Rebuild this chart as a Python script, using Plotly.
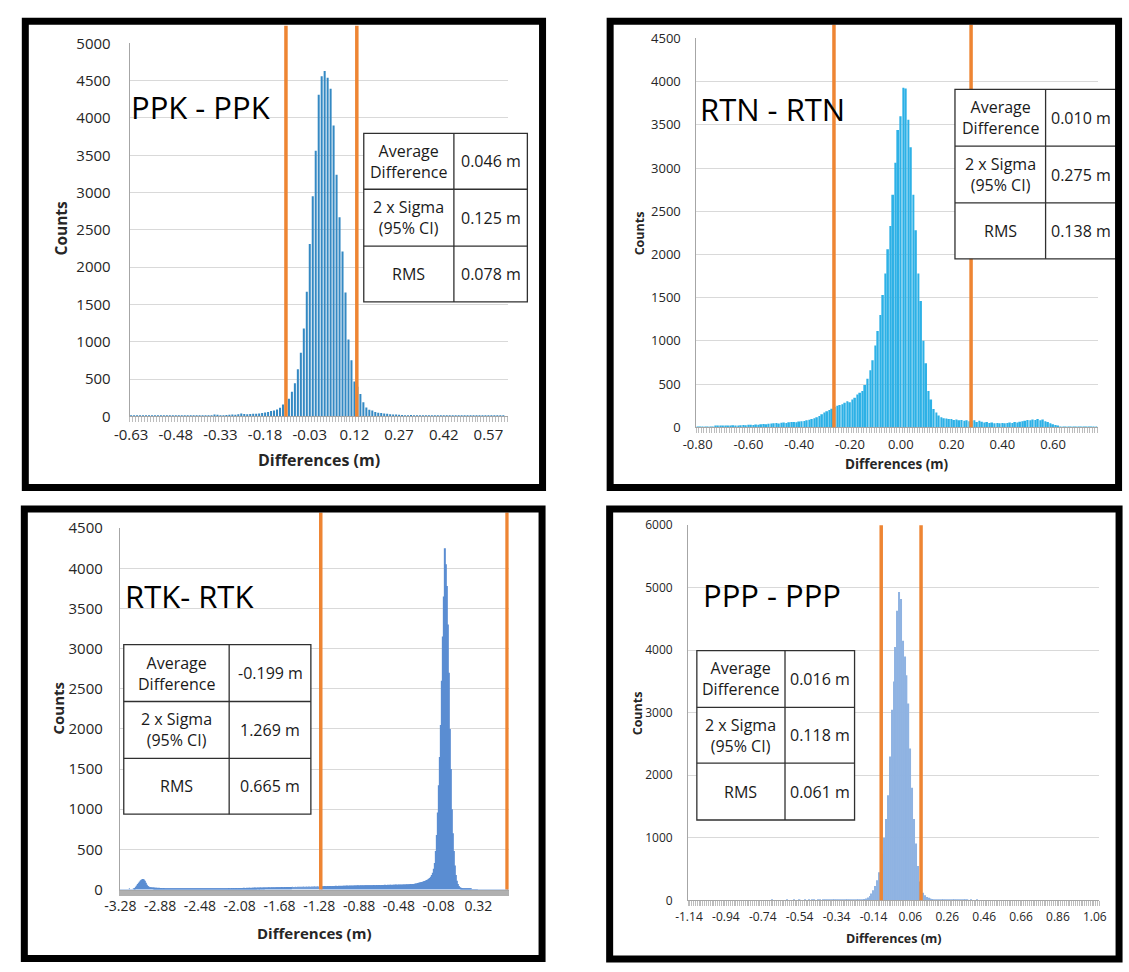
import plotly.graph_objects as go

W, H = 1129, 972
FONT = "Open Sans"

# ---------------- data ----------------
bin_width = 0.01

# PPK - PPK histogram (bins start at -0.63, step 0.01)
ppk_start = -0.63
ppk_counts = [
    5, 6, 5, 6, 7, 6, 7, 8, 7, 8,
    9, 8, 9, 10, 9, 10, 11, 10, 12, 11,
    12, 13, 12, 14, 13, 15, 14, 18, 28, 22,
    17, 16, 20, 22, 25, 24, 30, 40, 32, 30,
    33, 35, 38, 40, 45, 55, 60, 75, 80, 92,
    118, 160, 195, 236, 330, 446, 634, 853, 1180, 1670,
    2310, 2950, 3560, 4310, 4560, 4630, 4540, 4390, 3900, 3240,
    2670, 2210, 1660, 1030, 755, 470, 400, 300, 190, 120,
    90, 80, 60, 50, 45, 40, 35, 30, 28, 25,
    22, 20, 18, 15, 20, 18, 12, 15, 12, 10,
    12, 9, 10, 8, 8, 7, 8, 6, 7, 6,
    6, 5, 6, 5, 5, 4, 5, 4, 4, 5,
    4, 3, 4, 3, 3, 3, 2,
]

# RTN - RTN histogram (bins start at -0.80)
rtn_start = -0.80
rtn_counts = [
    3, 3, 4, 4, 5, 6, 7, 10, 12, 15,
    18, 15, 20, 18, 22, 20, 18, 22, 25, 22,
    28, 30, 26, 32, 30, 35, 38, 34, 40, 42,
    45, 48, 44, 52, 55, 50, 58, 60, 62, 58,
    66, 70, 72, 80, 88, 96, 105, 115, 130, 150,
    170, 185, 200, 215, 235, 250, 257, 265, 284, 300,
    290, 320, 340, 378, 400, 420, 490, 560, 660, 775,
    945, 1115, 1300, 1530, 1780, 2060, 2330, 2690, 3060, 3440,
    3600, 3930, 3920, 3560, 3240, 2690, 2280, 1780, 1460, 1000,
    740, 420, 320, 210, 170, 135, 115, 105, 100, 95,
    95, 85, 90, 80, 85, 75, 80, 70, 75, 80,
    60, 75, 65, 55, 60, 50, 55, 45, 50, 45,
    50, 45, 50, 55, 50, 60, 55, 65, 70, 75,
    85, 80, 90, 85, 95, 80, 90, 70, 60, 45,
    35, 25, 15, 8, 5, 4, 4, 3, 3, 3,
    3, 2, 3, 2, 2, 2, 2, 2,
]

# RTK - RTK histogram (bins start at -3.28)
rtk_start = -3.28
rtk_counts = [
    1, 1, 2, 2, 2, 3, 3, 4, 5, 6,
    3, 4, 5, 8, 12, 20, 35, 50, 70, 85,
    100, 115, 125, 130, 125, 110, 85, 60, 45, 35,
    30, 28, 26, 25, 24, 22, 23, 21, 20, 22,
    20, 18, 19, 17, 18, 16, 17, 15, 16, 15,
    14, 15, 13, 14, 12, 13, 12, 13, 11, 12,
    12, 11, 12, 10, 11, 12, 10, 11, 10, 12,
    11, 10, 12, 11, 13, 11, 12, 10, 12, 11,
    12, 13, 11, 12, 14, 12, 13, 12, 14, 13,
    13, 14, 12, 15, 13, 14, 15, 13, 14, 16,
    15, 14, 16, 15, 17, 15, 16, 17, 15, 18,
    16, 17, 18, 16, 19, 17, 18, 19, 17, 20,
    18, 19, 20, 18, 21, 19, 20, 22, 20, 21,
    22, 20, 23, 21, 22, 24, 22, 23, 25, 23,
    24, 25, 23, 26, 24, 25, 27, 25, 26, 28,
    26, 27, 28, 26, 29, 27, 28, 30, 28, 29,
    30, 28, 31, 29, 30, 32, 30, 31, 33, 31,
    32, 33, 31, 34, 32, 33, 35, 33, 34, 36,
    34, 35, 36, 34, 37, 35, 36, 38, 36, 37,
    38, 36, 39, 37, 38, 40, 38, 39, 41, 39,
    40, 41, 39, 42, 40, 41, 43, 41, 42, 44,
    42, 43, 44, 42, 45, 43, 44, 46, 44, 45,
    46, 44, 47, 45, 46, 48, 46, 47, 49, 47,
    48, 49, 47, 50, 48, 49, 51, 49, 50, 52,
    50, 51, 52, 50, 53, 51, 52, 54, 52, 53,
    54, 52, 55, 53, 54, 56, 54, 55, 57, 55,
    56, 57, 55, 58, 56, 57, 59, 57, 58, 60,
    58, 59, 60, 58, 61, 59, 60, 62, 60, 61,
    62, 60, 63, 61, 62, 64, 62, 63, 65, 64,
    66, 65, 68, 67, 70, 69, 72, 74, 76, 80,
    84, 88, 90, 94, 98, 102, 106, 112, 118, 125,
    135, 145, 160, 180, 210, 260, 330, 480, 680, 960,
    1300, 1650, 2050, 2600, 3150, 3650, 4250, 4050, 3780, 3300,
    2700, 2000, 1500, 1000, 700, 480, 300, 180, 110, 70,
    45, 30, 22, 18, 15, 12, 10, 9, 8, 7,
    7, 6, 6, 5, 5, 5, 4, 4, 4, 4,
    4, 3, 3, 3, 3, 3, 3, 3, 2, 3,
    2, 2, 3, 2, 2, 2, 2, 2, 2, 2,
    2, 2, 2, 1, 2, 1, 2, 1, 1, 1,
    1,
]

# PPP - PPP histogram (bins start at -1.14)
ppp_start = -1.14
ppp_counts = [
    1, 1, 1, 1, 1, 1, 1, 1, 1, 1,
    1, 1, 1, 1, 1, 1, 1, 1, 1, 1,
    1, 1, 1, 1, 1, 1, 1, 1, 1, 1,
    1, 1, 1, 1, 1, 1, 1, 1, 1, 1,
    1, 1, 1, 1, 1, 2, 1, 1, 1, 1,
    1, 1, 1, 2, 1, 1, 1, 2, 1, 1,
    2, 1, 1, 2, 1, 2, 1, 2, 2, 1,
    2, 2, 1, 2, 2, 2, 2, 3, 2, 2,
    3, 2, 3, 3, 3, 4, 3, 4, 4, 5,
    5, 6, 8, 10, 14, 20, 30, 45, 70, 110,
    160, 230, 320, 450, 580, 750, 1000, 1300, 1680, 2300,
    3050, 3500, 4050, 4630, 4930, 4820, 4150, 3900, 3600, 3150,
    2430, 1800, 1300, 910, 550, 300, 180, 120, 80, 55,
    40, 30, 22, 16, 12, 10, 8, 6, 5, 4,
    4, 3, 3, 3, 2, 3, 2, 2, 2, 2,
    2, 2, 1, 2, 1, 1, 2, 1, 1, 1,
    1, 1, 1, 1, 1, 1, 1, 1, 1, 1,
    1, 1, 1, 1, 1, 1, 1, 1, 1, 1,
    1, 1, 1, 1, 1, 1, 1, 1, 1, 1,
    1, 1, 1, 1, 1, 1, 1, 1, 1, 1,
    1, 1, 1, 1, 1, 1, 1, 1, 1, 1,
    1, 1, 1, 1, 1, 1, 1, 1, 1, 1,
    1, 1, 1,
]

# axis tick labels
ppk_xticks = [-0.63, -0.48, -0.33, -0.18, -0.03, 0.12, 0.27, 0.42, 0.57]
rtn_xticks = [-0.80, -0.60, -0.40, -0.20, 0.00, 0.20, 0.40, 0.60]
rtk_xticks = [-3.28, -2.88, -2.48, -2.08, -1.68, -1.28, -0.88, -0.48, -0.08, 0.32]
ppp_xticks = [-1.14, -0.94, -0.74, -0.54, -0.34, -0.14, 0.06, 0.26, 0.46, 0.66, 0.86, 1.06]
ppk_yticks = [0, 500, 1000, 1500, 2000, 2500, 3000, 3500, 4000, 4500, 5000]
rtn_yticks = [0, 500, 1000, 1500, 2000, 2500, 3000, 3500, 4000, 4500]
rtk_yticks = [0, 500, 1000, 1500, 2000, 2500, 3000, 3500, 4000, 4500]
ppp_yticks = [0, 1000, 2000, 3000, 4000, 5000, 6000]

# orange limit lines (m)
ppk_limits = [-0.11, 0.128]
rtn_limits = [-0.263, 0.277]
rtk_limits = [-1.265, 0.608]
ppp_limits = [-0.098, 0.118]

# statistics tables
stat_labels = ["Average<br>Difference", "2 x Sigma<br>(95% CI)", "RMS"]
ppk_stats = ["0.046 m", "0.125 m", "0.078 m"]
rtn_stats = ["0.010 m", "0.275 m", "0.138 m"]
rtk_stats = ["-0.199 m", "1.269 m", "0.665 m"]
ppp_stats = ["0.016 m", "0.118 m", "0.061 m"]

panel_titles = ["PPK - PPK", "RTN - RTN", "RTK- RTK", "PPP - PPP"]
x_title = "Differences (m)"
y_title = "Counts"

# ---------------- layout helpers ----------------
def px(v):
    return v / W

def py(v):
    return 1 - v / H

def cats(start, counts):
    return [round(start + i * bin_width, 2) for i in range(len(counts))]

panels = [
    dict(start=ppk_start, counts=ppk_counts, xticks=ppk_xticks, yticks=ppk_yticks,
         limits=ppk_limits, stats=ppk_stats, title=panel_titles[0],
         color="#3489C3", xr=[-0.635, 0.635], yr=[0, 5000],
         xdom=(116, 502), ydom=(414, 33), frame=(9.5, 10.5, 537.5, 486.5),
         line_top=15, table=(355, 447, 522, 125, 182, 240, 297),
         title_pos=(188, 98, 31), tick_size=15, xlab_size=15, ax_size=16,
         counts_pos=(46, 222, 15.5), xt_pos=(309, 458), ystand=15, xstand=5,
         barw=0.0068, mtw=1, mtc="#BDBDBD"),
    dict(start=rtn_start, counts=rtn_counts, xticks=rtn_xticks, yticks=rtn_yticks,
         limits=rtn_limits, stats=rtn_stats, title=panel_titles[1],
         color="#2DB1E6", xr=[-0.805, 0.775], yr=[0, 4500],
         xdom=(694.5, 1104), ydom=(425, 28), frame=(606.5, 10.5, 1125.5, 486.5),
         line_top=14, table=(958.5, 1051, 1123, 80, 138, 196, 253),
         title_pos=(772, 100, 31), tick_size=13, xlab_size=13, ax_size=13.5,
         counts_pos=(636, 227, 12.5), xt_pos=(899, 463), ystand=12, xstand=5,
         barw=0.0068, mtw=1, mtc="#BDBDBD"),
    dict(start=rtk_start, counts=rtk_counts, xticks=rtk_xticks, yticks=rtk_yticks,
         limits=rtk_limits, stats=rtk_stats, title=panel_titles[2],
         color="#5B8DD2", xr=[-3.285, 0.625], yr=[0, 4500],
         xdom=(106, 503), ydom=(897, 528), frame=(8.5, 508.5, 537, 967.5),
         line_top=512, table=(110, 217.6, 301, 647, 705, 763, 820),
         title_pos=(177, 597, 31), tick_size=15, xlab_size=14, ax_size=15,
         counts_pos=(43, 712, 15), xt_pos=(305, 941), ystand=13, xstand=4,
         barw=0.0085, mtw=0.6, mtc="#B0B0B0"),
    dict(start=ppp_start, counts=ppp_counts, xticks=ppp_xticks, yticks=ppp_yticks,
         limits=ppp_limits, stats=ppp_stats, title=panel_titles[3],
         color="#8FB3E2", xr=[-1.145, 1.085], yr=[0, 6000],
         xdom=(686, 1106), ydom=(908, 525), frame=(606, 508.5, 1126, 968),
         line_top=525, table=(695, 785, 856, 653, 711, 768, 826),
         title_pos=(772, 596, 31), tick_size=12, xlab_size=12, ax_size=12.5,
         counts_pos=(634, 717, 12.5), xt_pos=(896, 947), ystand=12, xstand=5,
         barw=0.0075, mtw=1, mtc="#BDBDBD"),
]

fig = go.Figure()
shapes = []
annotations = []
layout = {}
ORANGE = "#EE8533"
AXIS_GRAY = "#A6A6A6"
GRID = "#D9D9D9"
TEXT = "#262626"

for i, p in enumerate(panels):
    n = "" if i == 0 else str(i + 1)
    xa, ya = "x" + n, "y" + n
    fig.add_trace(go.Bar(
        x=cats(p["start"], p["counts"]), y=p["counts"],
        xaxis=xa, yaxis=ya, width=p["barw"],
        marker=dict(color=p["color"], line=dict(width=0)),
        showlegend=False, hoverinfo="x+y",
    ))
    layout["xaxis" + n] = dict(
        domain=[px(p["xdom"][0]), px(p["xdom"][1])], anchor=ya,
        range=p["xr"], showgrid=False, zeroline=False,
        showline=True, linecolor=AXIS_GRAY, linewidth=1,
        tickmode="array", tickvals=p["xticks"],
        ticktext=[f"{v:.2f}" for v in p["xticks"]], ticks="",
        ticklabelstandoff=p["xstand"],
        tickfont=dict(family=FONT, size=p["xlab_size"], color=TEXT),
        minor=dict(tick0=p["start"] - bin_width / 2, dtick=bin_width,
                   ticks="outside", ticklen=5, tickwidth=p["mtw"], tickcolor=p["mtc"]),
        fixedrange=True,
    )
    layout["yaxis" + n] = dict(
        domain=[py(p["ydom"][0]), py(p["ydom"][1])], anchor=xa,
        range=p["yr"], showgrid=True, gridcolor=GRID, gridwidth=1,
        zeroline=False, showline=True, linecolor=AXIS_GRAY, linewidth=1,
        tickmode="array", tickvals=p["yticks"],
        ticktext=[str(v) for v in p["yticks"]], ticks="",
        ticklabelstandoff=p["ystand"],
        tickfont=dict(family=FONT, size=p["tick_size"], color=TEXT),
        fixedrange=True,
    )
    # orange limit lines
    for lim in p["limits"]:
        shapes.append(dict(type="line", xref=xa, yref="paper",
                           x0=lim, x1=lim, y0=py(p["ydom"][0]), y1=py(p["line_top"]),
                           line=dict(color=ORANGE, width=3.5), layer="above"))
    # statistics table
    x0, xm, x1, r0, r1, r2, r3 = p["table"]
    shapes.append(dict(type="rect", xref="paper", yref="paper",
                       x0=px(x0), x1=px(x1), y0=py(r3), y1=py(r0),
                       fillcolor="white", line=dict(color="#303030", width=1.3), layer="above"))
    shapes.append(dict(type="line", xref="paper", yref="paper",
                       x0=px(xm), x1=px(xm), y0=py(r3), y1=py(r0),
                       line=dict(color="#303030", width=1.3), layer="above"))
    for r in (r1, r2):
        shapes.append(dict(type="line", xref="paper", yref="paper",
                           x0=px(x0), x1=px(x1), y0=py(r), y1=py(r),
                           line=dict(color="#303030", width=1.3), layer="above"))
    rows = [(r0, r1), (r1, r2), (r2, r3)]
    for (ra, rb), lab, val in zip(rows, stat_labels, p["stats"]):
        yc = (ra + rb) / 2
        annotations.append(dict(text=lab, x=px((x0 + xm) / 2), y=py(yc), xref="paper", yref="paper",
                                showarrow=False, xanchor="center", yanchor="middle",
                                font=dict(family=FONT, size=16, color="#1a1a1a")))
        annotations.append(dict(text=val, x=px((xm + x1) / 2), y=py(yc), xref="paper", yref="paper",
                                showarrow=False, xanchor="center", yanchor="middle",
                                font=dict(family=FONT, size=16, color="#1a1a1a")))
    # panel title
    tx, ty, ts = p["title_pos"]
    annotations.append(dict(text=p["title"], x=px(tx), y=py(ty), xref="paper", yref="paper",
                            showarrow=False, xanchor="center", yanchor="middle",
                            font=dict(family=FONT, size=ts, color="black")))
    # axis titles
    cx, cy, cs = p["counts_pos"]
    annotations.append(dict(text=y_title, x=px(cx), y=py(cy), xref="paper", yref="paper",
                            showarrow=False, textangle=-90, xanchor="center", yanchor="middle",
                            font=dict(family=FONT, size=cs, color=TEXT, weight="bold")))
    dx, dy = p["xt_pos"]
    annotations.append(dict(text=x_title, x=px(dx), y=py(dy), xref="paper", yref="paper",
                            showarrow=False, xanchor="center", yanchor="middle",
                            font=dict(family=FONT, size=p["ax_size"], color=TEXT, weight="bold")))
    # black frame
    fx0, fy0, fx1, fy1 = p["frame"]
    shapes.append(dict(type="rect", xref="paper", yref="paper",
                       x0=px(fx0), x1=px(fx1), y0=py(fy1), y1=py(fy0),
                       line=dict(color="black", width=7), layer="above"))

fig.update_layout(
    width=W, height=H, margin=dict(l=0, r=0, t=0, b=0),
    paper_bgcolor="white", plot_bgcolor="white",
    showlegend=False, bargap=0.3,
    font=dict(family=FONT),
    shapes=shapes, annotations=annotations,
    **layout,
)

fig.write_html(
    "out.html",
    post_script="document.body.style.margin='0';document.body.style.overflow='hidden';",
)
